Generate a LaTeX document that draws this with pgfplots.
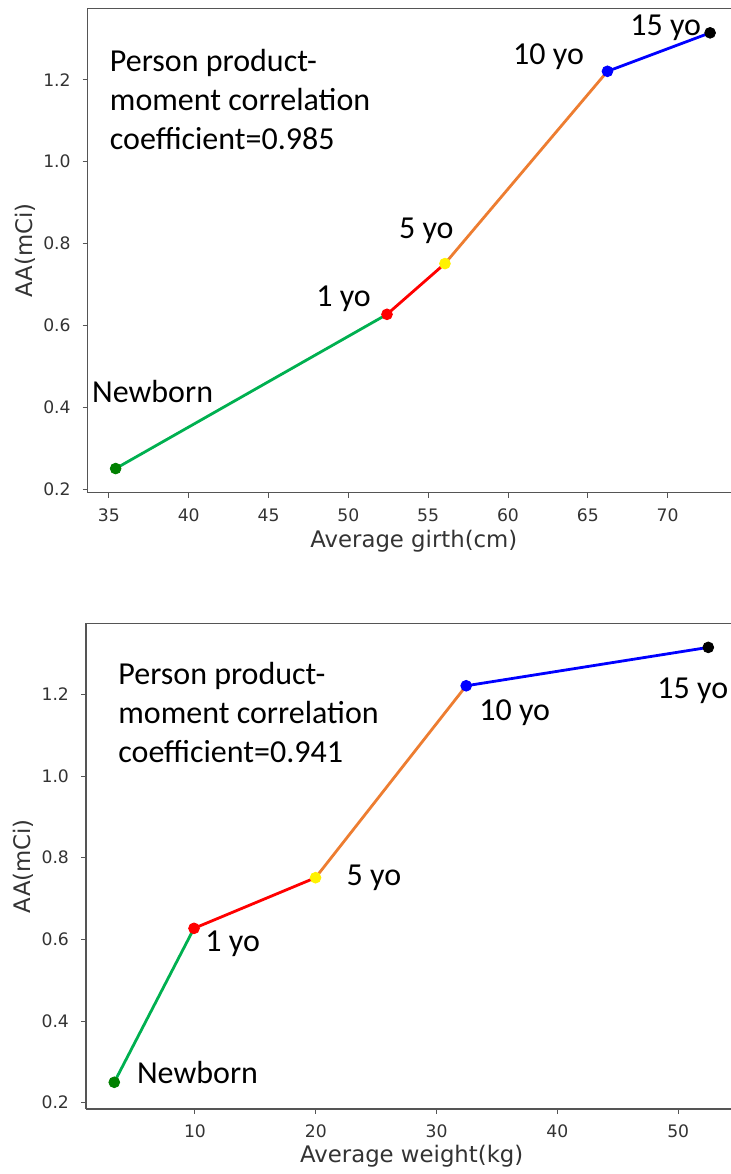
\documentclass[border=0pt]{standalone}
\usepackage{pgfplots}
\pgfplotsset{compat=1.18}
\usepackage{fontspec}
\setmainfont{DejaVu Sans}
\newfontfamily\calfont{Carlito}
\definecolor{lgreen}{HTML}{00B050}
\definecolor{mgreen}{HTML}{008000}
\definecolor{lorange}{HTML}{ED7D31}
\definecolor{spine}{HTML}{555555}
\tikzset{ann/.style={anchor=base west, inner sep=0pt, font=\calfont\fontsize{16}{19}\selectfont, text=black}}
\pgfplotsset{
  mystyle/.style={
    scale only axis, anchor=south west,
    axis x line=box, axis y line=left,
    axis line style={-, draw=spine, line width=0.6pt},
    tick align=outside, major tick length=2.5pt,
    every tick/.style={draw=spine, line width=0.5pt},
    xtick pos=bottom, ytick pos=left,
    enlargelimits=false, clip=false,
    /pgf/number format/assume math mode=true,
    ticklabel style={font=\fontsize{8.6}{10}\selectfont, text=black!80},
    ytick={0.2,0.4,0.6,0.8,1.0,1.2},
    y tick label style={/pgf/number format/fixed, /pgf/number format/fixed zerofill, /pgf/number format/precision=1, xshift=-2.5pt},
    x tick label style={yshift=-2pt},
    label style={font=\fontsize{11.4}{13}\selectfont, text=black!80},
    ylabel style={at={(axis description cs:-0.097,0.5)}, anchor=center},
    ymin=0.191, ymax=1.375,
  },
  seg/.style={line width=1.4pt},
  dot/.style={only marks, mark=*, mark size=2.7pt},
}
\begin{document}
\begin{tikzpicture}
% ---------- top: girth ----------
\begin{axis}[mystyle,
  at={(43.85pt,340.65pt)}, width=321.65pt, height=242.2pt,
  xmin=33.67, xmax=73.97,
  xtick={35,40,45,50,55,60,65,70},
  xlabel={Average girth(cm)}, ylabel={AA(mCi)},
  xlabel style={at={(axis description cs:0.507,0)}, anchor=base, yshift=-27.5pt},
]
\addplot[seg, lgreen] coordinates {(35.42,0.250) (52.42,0.627)};
\addplot[seg, red] coordinates {(52.42,0.627) (56.05,0.751)};
\addplot[seg, lorange] coordinates {(56.05,0.751) (66.23,1.221)};
\addplot[seg, blue] coordinates {(66.23,1.221) (72.66,1.315)};
\addplot[dot, draw=mgreen, fill=mgreen] coordinates {(35.42,0.250)};
\addplot[dot, draw=red, fill=red] coordinates {(52.42,0.627)};
\addplot[dot, draw=yellow, fill=yellow] coordinates {(56.05,0.751)};
\addplot[dot, draw=blue, fill=blue] coordinates {(66.23,1.221)};
\addplot[dot, draw=black, fill=black] coordinates {(72.66,1.315)};
\node[ann] at (axis cs:35.04,1.221) {Person product-};
\node[ann] at (axis cs:35.04,1.125) {moment correlation};
\node[ann] at (axis cs:35.04,1.031) {coefficient=0.985};
\node[ann] at (axis cs:67.64,1.308) {15 yo};
\node[ann] at (axis cs:60.30,1.237) {10 yo};
\node[ann] at (axis cs:53.15,0.812) {5 yo};
\node[ann] at (axis cs:47.97,0.645) {1 yo};
\node[ann] at (axis cs:33.92,0.411) {Newborn};
\end{axis}
% ---------- bottom: weight ----------
\begin{axis}[mystyle,
  at={(43pt,32.5pt)}, width=322.5pt, height=242.85pt,
  xmin=0.98, xmax=54.37, ymin=0.1846, ymax=1.374,
  xtick={10,20,30,40,50},
  xlabel={Average weight(kg)}, ylabel={AA(mCi)},
  xlabel style={at={(axis description cs:0.505,0)}, anchor=base, yshift=-27pt},
]
\addplot[seg, lgreen] coordinates {(3.32,0.250) (9.92,0.627)};
\addplot[seg, red] coordinates {(9.92,0.627) (19.98,0.751)};
\addplot[seg, lorange] coordinates {(19.98,0.751) (32.45,1.221)};
\addplot[seg, blue] coordinates {(32.45,1.221) (52.49,1.315)};
\addplot[dot, draw=mgreen, fill=mgreen] coordinates {(3.32,0.250)};
\addplot[dot, draw=red, fill=red] coordinates {(9.92,0.627)};
\addplot[dot, draw=yellow, fill=yellow] coordinates {(19.98,0.751)};
\addplot[dot, draw=blue, fill=blue] coordinates {(32.45,1.221)};
\addplot[dot, draw=black, fill=black] coordinates {(52.49,1.315)};
\node[ann] at (axis cs:3.63,1.223) {Person product-};
\node[ann] at (axis cs:3.63,1.128) {moment correlation};
\node[ann] at (axis cs:3.63,1.034) {coefficient=0.941};
\node[ann] at (axis cs:48.25,1.191) {15 yo};
\node[ann] at (axis cs:33.51,1.137) {10 yo};
\node[ann] at (axis cs:22.53,0.733) {5 yo};
\node[ann] at (axis cs:10.83,0.570) {1 yo};
\node[ann] at (axis cs:5.17,0.247) {Newborn};
\end{axis}
\pgfresetboundingbox
\path[use as bounding box] (0,0) rectangle (365.5pt,587pt);
\end{tikzpicture}
\end{document}
